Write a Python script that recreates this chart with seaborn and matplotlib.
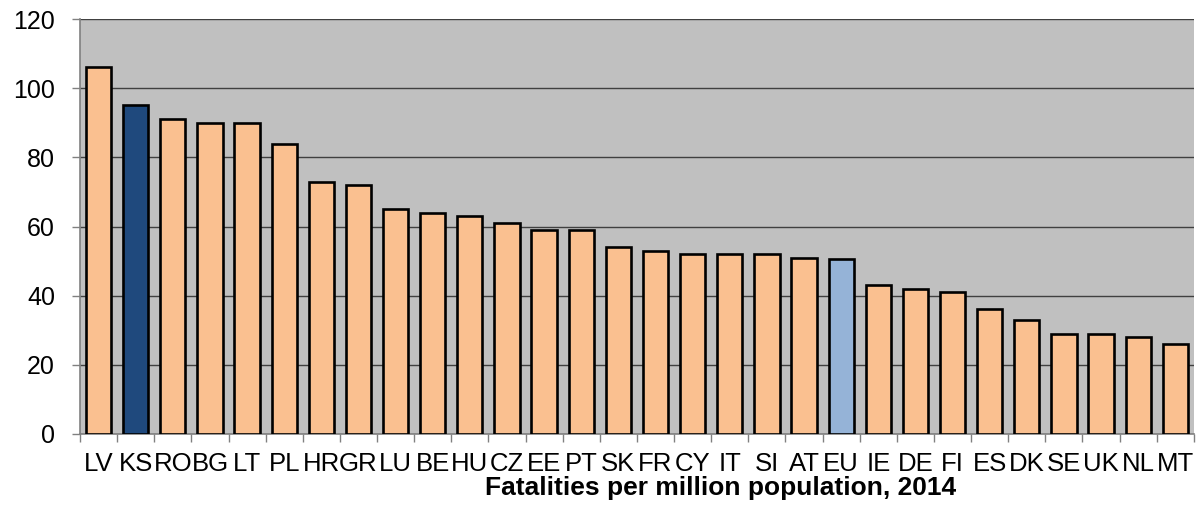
import numpy as np
import pandas as pd
import matplotlib
matplotlib.use('Agg')
import matplotlib.pyplot as plt
import seaborn as sns

countries = ['LV', 'KS', 'RO', 'BG', 'LT', 'PL', 'HR', 'GR', 'LU', 'BE',
             'HU', 'CZ', 'EE', 'PT', 'SK', 'FR', 'CY', 'IT', 'SI', 'AT',
             'EU', 'IE', 'DE', 'FI', 'ES', 'DK', 'SE', 'UK', 'NL', 'MT']
fatalities = [106, 95, 91, 90, 90, 84, 73, 72, 65, 64,
              63, 61, 59, 59, 54, 53, 52, 52, 52, 51,
              50.5, 43, 42, 41, 36, 33, 29, 29, 28, 26]
y_ticks = [0, 20, 40, 60, 80, 100, 120]

df = pd.DataFrame({'country': countries, 'value': fatalities})

colors = {c: '#FAC090' for c in countries}
colors['KS'] = '#1F497D'
colors['EU'] = '#95B3D7'

sns.set_style('white')
plt.rcParams['font.family'] = ['Liberation Sans', 'DejaVu Sans']
plt.rcParams['text.color'] = 'black'
plt.rcParams['xtick.color'] = 'black'
plt.rcParams['ytick.color'] = 'black'
plt.rcParams['axes.labelcolor'] = 'black'

fig = plt.figure(figsize=(11.96, 5.07), dpi=100)
ax = fig.add_axes([0.0669, 0.144, 0.9313, 0.8185])
ax.set_facecolor('#C0C0C0')

sns.barplot(data=df, x='country', y='value', hue='country', palette=colors,
            legend=False, width=0.68, edgecolor='black', linewidth=1.9,
            saturation=1, ax=ax, zorder=3)

ax.set_xlim(-0.5, len(countries) - 0.5)
ax.set_ylim(0, 120)
ax.set_yticks(y_ticks)
ax.yaxis.grid(True, color='#404040', linewidth=1)
ax.set_axisbelow(True)

for s in ['top', 'right']:
    ax.spines[s].set_visible(False)
for s in ['left', 'bottom']:
    ax.spines[s].set_color('#808080')
    ax.spines[s].set_linewidth(1.2)

ax.set_xticks(np.arange(len(countries)))
ax.set_xticklabels(countries)
ax.set_xticks(np.arange(len(countries) + 1) - 0.5, minor=True)
ax.tick_params(axis='x', which='major', length=0, labelsize=18.5, pad=13)
ax.tick_params(axis='x', which='minor', bottom=True, length=6,
               color='#808080', width=1)
ax.tick_params(axis='y', which='major', left=True, length=6,
               color='#808080', width=1, labelsize=18, pad=12,
               labelcolor='black')

# title sits a bit right of centre in the original
ax.set_xlabel('Fatalities per million population, 2014', fontsize=19,
              fontweight='bold')
ax.xaxis.set_label_coords(0.575, -0.102)
ax.set_ylabel('')

fig.savefig('out.png', dpi=100)
